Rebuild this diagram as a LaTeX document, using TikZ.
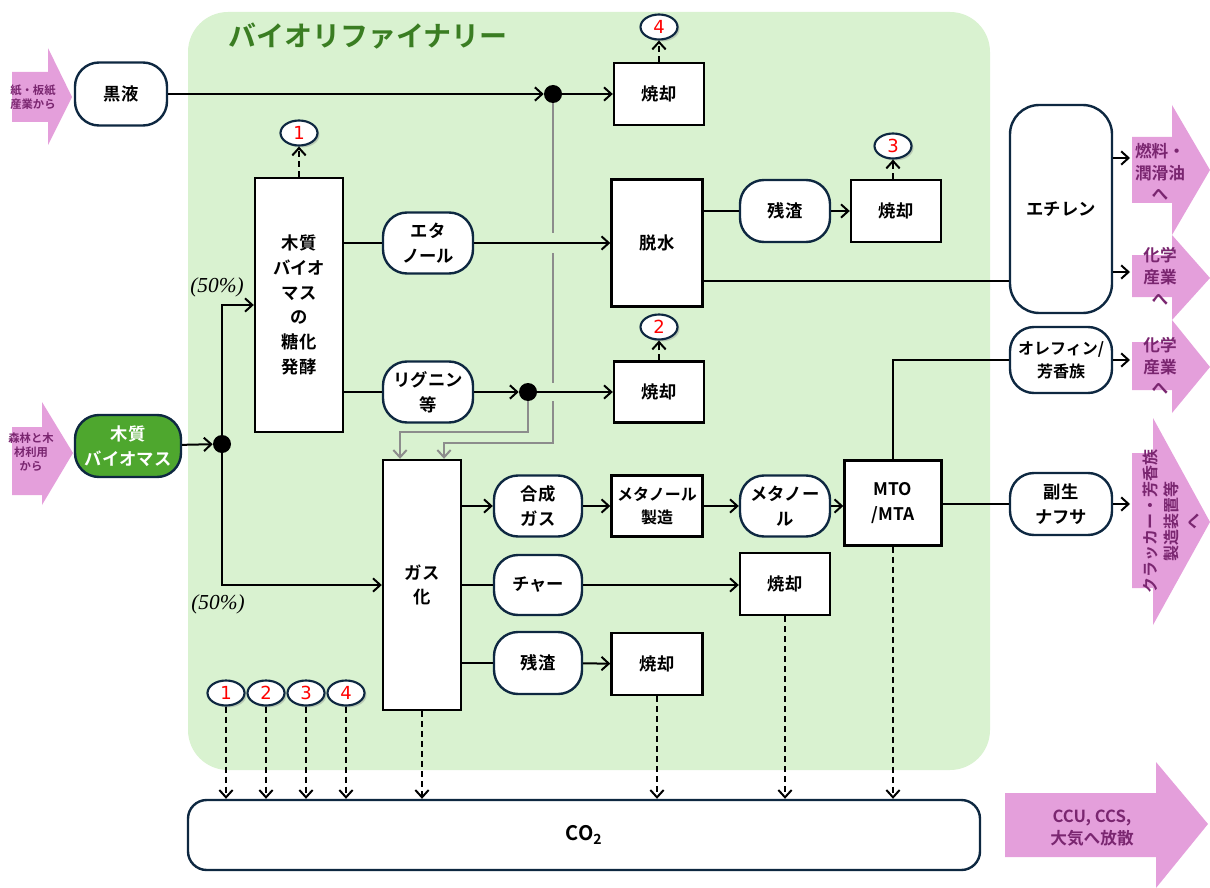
\documentclass[tikz,border=0pt]{standalone}
\usepackage{fontspec}
\setmainfont{Noto Sans CJK JP}[BoldFont={Noto Sans CJK JP Bold}]
\newfontfamily\serifit{Liberation Serif}
\newfontfamily\numfont{DejaVu Sans}
\usetikzlibrary{shapes.geometric,arrows.meta,shadows}
\definecolor{bggreen}{HTML}{D9F2D0}
\definecolor{titlegreen}{HTML}{3A7D22}
\definecolor{nodegreen}{HTML}{4EA72E}
\definecolor{navy}{HTML}{0E2841}
\definecolor{pinkarrow}{HTML}{E49FDB}
\definecolor{pinktext}{HTML}{7A2670}
\definecolor{grayline}{HTML}{8C8C8C}
\begin{document}
\begin{tikzpicture}[x=0.75pt,y=-0.75pt,
  sz/.style 2 args={minimum width=#1*0.75pt, minimum height=#2*0.75pt},
  nf/.style={font=\bfseries\fontsize{13}{18.5}\selectfont},
  box/.style={draw=black, line width=1.8pt, fill=white, inner sep=0pt, align=center, nf},
  pill/.style={draw=navy, line width=1.8pt, fill=white, inner sep=0pt, align=center, rounded corners=18pt, nf},
  dot/.style={circle, fill=black, minimum size=18*0.75pt, inner sep=0pt},
  num/.style={ellipse, draw=navy, line width=1.6pt, fill=white, minimum width=37*0.75pt, minimum height=25*0.75pt, inner sep=0pt, text=red, font=\numfont\fontsize{13.5}{13.5}\selectfont, drop shadow={shadow xshift=1.5pt, shadow yshift=-1.5pt, opacity=0.35}},
  arr/.style={line width=1.5pt, -{Straight Barb[length=5.5pt,width=10pt,line width=1.5pt]}},
  ln/.style={line width=1.5pt},
  garr/.style={line width=1.5pt, draw=grayline, -{Straight Barb[length=5.5pt,width=10pt,line width=1.5pt]}},
  gln/.style={line width=1.5pt, draw=grayline},
  dsh/.style={line width=2.2pt, dash pattern=on 4.5pt off 3pt, -{Straight Barb[length=5.5pt,width=10pt,line width=1.5pt]}},
  pk/.style={fill=pinkarrow},
  pkt/.style={text=pinktext, align=center, inner sep=0pt},
  pct/.style={font=\serifit\itshape\fontsize{16}{16}\selectfont, inner sep=0pt}
]
\useasboundingbox (0,0) rectangle (1210,888);
% background
\fill[bggreen, rounded corners=30pt] (188,12) rectangle (990,770);
\node[text=titlegreen, font=\bfseries\fontsize{21}{25}\selectfont, inner sep=0pt] (title) at (368,36) {バイオリファイナリー};

% pink arrows (left)
\fill[pk] (12,72) -- (48,72) -- (48,48) -- (72,97) -- (48,145) -- (48,122) -- (12,122) -- cycle;
\node[pkt, font=\bfseries\fontsize{8.5}{10.5}\selectfont] (inpaper) at (33,97) {紙・板紙\\産業から};
\fill[pk] (12,427) -- (42,427) -- (42,402) -- (73,453) -- (42,505) -- (42,495) -- (12,495) -- cycle;
\node[pkt, font=\bfseries\fontsize{8.5}{10.5}\selectfont] (inforest) at (31,452) {森林と木\\材利用\\から};

% pink arrows (right)
\fill[pk] (1132,137) -- (1172,137) -- (1172,105) -- (1210,170) -- (1172,235) -- (1172,203) -- (1132,203) -- cycle;
\node[pkt, font=\bfseries\fontsize{12.5}{16}\selectfont] (outfuel) at (1160,172) {燃料・\\潤滑油\\へ};
\fill[pk] (1132,255) -- (1172,255) -- (1172,235) -- (1210,278) -- (1172,320) -- (1172,297) -- (1132,297) -- cycle;
\node[pkt, font=\bfseries\fontsize{12.5}{16.5}\selectfont] (outchem1) at (1160,276) {化学\\産業\\へ};
\fill[pk] (1132,342) -- (1172,342) -- (1172,320) -- (1210,367) -- (1172,413) -- (1172,390) -- (1132,390) -- cycle;
\node[pkt, font=\bfseries\fontsize{12.5}{16}\selectfont] (outchem2) at (1160,366) {化学\\産業\\へ};
\fill[pk] (1132,453) -- (1153,453) -- (1153,418) -- (1210,522) -- (1153,625) -- (1153,588) -- (1132,588) -- cycle;
\node[pkt, rotate=90, font=\bfseries\fontsize{12}{16}\selectfont] (outcrack) at (1171,521) {クラッカー・芳香族\\製造装置等\\へ};
\fill[pk] (1005,793) -- (1156,793) -- (1156,762) -- (1208,824) -- (1156,888) -- (1156,857) -- (1005,857) -- cycle;
\node[pkt, font=\bfseries\fontsize{12.5}{16}\selectfont] (outccu) at (1092,828) {CCU, CCS,\\大気へ放散};

% nodes
\node[pill, sz={92}{63}] (kok) at (121,94) {黒液};
\node[pill, sz={106}{62}, fill=nodegreen, text=white] (wood) at (128,446) {木質\\バイオマス};
\node[box, sz={88}{254}] (sacc) at (299,305) {木質\\バイオ\\マス\\の\\糖化\\発酵};
\node[pill, sz={90}{61}] (etha) at (428,243) {エタ\\ノール};
\node[pill, sz={90}{61}] (lig) at (428,392) {リグニン\\等};
\node[box, sz={90}{62}] (sho4) at (659,94) {焼却};
\node[box, sz={91}{127}] (dass) at (657,243) {脱水};
\node[pill, sz={90}{62}] (zan1) at (785,211) {残渣};
\node[box, sz={90}{62}] (sho3) at (896,211) {焼却};
\node[box, sz={90}{61}] (sho2) at (659,392) {焼却};
\node[pill, sz={102}{208}, rounded corners=22pt] (ethy) at (1061,209) {エチレン};
\node[pill, sz={102}{66}, font=\bfseries\fontsize{12}{17}\selectfont] (olef) at (1061,360) {オレフィン/\\芳香族};
\node[pill, sz={102}{62}] (fuk) at (1061,504) {副生\\ナフサ};
\node[box, sz={78}{250}] (gas) at (422,585) {ガス\\化};
\node[pill, sz={88}{61}] (syn) at (538,506) {合成\\ガス};
\node[box, sz={91}{61}, font=\bfseries\fontsize{12}{17}\selectfont] (mprod) at (657,506) {メタノール\\製造};
\node[pill, sz={90}{61}] (meth) at (785,506) {メタノー\\ル};
\node[box, sz={97}{85}] (mto) at (893,503) {MTO\\/MTA};
\node[pill, sz={88}{60}] (char) at (538,585) {チャー};
\node[box, sz={90}{62}] (shoc) at (785,584) {焼却};
\node[pill, sz={88}{62}] (zan2) at (538,663) {残渣};
\node[box, sz={91}{62}] (shoz) at (657,664) {焼却};
\node[pill, sz={792}{70}, rounded corners=14pt, font=\bfseries\fontsize{15}{18}\selectfont] (co2) at (584,835) {CO\textsubscript{2}};

% dots
\node[dot] (d0) at (222,444) {};
\node[dot] (d1) at (553,94) {};
\node[dot] (d2) at (528,392) {};

% number ellipses
\node[num] (n1) at (299,133) {1};
\node[num] (n4) at (659,27) {4};
\node[num] (n3) at (893,146) {3};
\node[num] (n2) at (659,327) {2};
\node[num] (b1) at (226,693) {1};
\node[num] (b2) at (266,693) {2};
\node[num] (b3) at (306,693) {3};
\node[num] (b4) at (346,693) {4};

% percentage labels
\node[pct] (p1) at (217,287) {(50\%)};
\node[pct] (p2) at (218,604) {(50\%)};

% helper coordinates
\coordinate (ga) at (553,233);
\coordinate (gb) at (553,253);
\coordinate (gc) at (553,383);
\coordinate (gd) at (553,401);
\coordinate (ge) at (553,443);
\coordinate (gf) at (444,443);
\coordinate (ha) at (528,432);
\coordinate (hb) at (400,432);
\coordinate (y281) at (0,281);
\coordinate (tfuel) at (1130,158);
\coordinate (tchem1) at (1130,272);
\coordinate (tchem2) at (1130,360);
\coordinate (tcrack) at (1130,504);

% gray connectors
\draw[gln] (d1) -- (ga);
\draw[gln] (gb) -- (gc);
\draw[garr] (gd) -- (ge) -- (gf) -- (gf |- gas.north);
\draw[garr] (d2) -- (ha) -- (hb) -- (hb |- gas.north);

% black connectors
\draw[arr] (kok) -- (d1);
\draw[arr] (d1) -- (sho4);
\draw[arr] (wood) -- (d0);
\draw[arr] (d0) |- (sacc.west);
\draw[arr] (d0) |- (gas.west);
\draw[ln] (sacc.east |- etha.west) -- (etha.west);
\draw[ln] (sacc.east |- lig.west) -- (lig.west);
\draw[arr] (etha.east) -- (etha.east -| dass.west);
\draw[arr] (lig.east) -- (d2);
\draw[arr] (d2) -- (d2 -| sho2.west);
\draw[ln] (dass.east |- zan1.west) -- (zan1.west);
\draw[arr] (zan1) -- (sho3);
\draw[ln] (dass.east |- y281) -- (ethy.west |- y281);
\draw[arr] (ethy.east |- tfuel) -- (tfuel);
\draw[arr] (ethy.east |- tchem1) -- (tchem1);
\draw[arr] (olef.east |- tchem2) -- (tchem2);
\draw[arr] (fuk.east |- tcrack) -- (tcrack);
\draw[arr] (gas.east |- syn.west) -- (syn.west);
\draw[arr] (syn) -- (mprod);
\draw[arr] (mprod) -- (meth);
\draw[arr] (meth.east) -- (meth.east -| mto.west);
\draw[ln] (mto.north) |- (olef.west);
\draw[ln] (mto.east |- fuk.west) -- (fuk.west);
\draw[ln] (gas.east |- char.west) -- (char.west);
\draw[arr] (char.east) -- (char.east -| shoc.west);
\draw[ln] (gas.east |- zan2.west) -- (zan2.west);
\draw[arr] (zan2) -- (shoz);

% dashed connectors
\draw[dsh] (sacc.north) -- (n1.south);
\draw[dsh] (sho4.north) -- (n4.south);
\draw[dsh] (sho3.north -| n3.south) -- (n3.south);
\draw[dsh] (sho2.north) -- (n2.south);
\draw[dsh] (b1.south) -- (b1.south |- co2.north);
\draw[dsh] (b2.south) -- (b2.south |- co2.north);
\draw[dsh] (b3.south) -- (b3.south |- co2.north);
\draw[dsh] (b4.south) -- (b4.south |- co2.north);
\draw[dsh] (gas.south) -- (gas.south |- co2.north);
\draw[dsh] (shoz.south) -- (shoz.south |- co2.north);
\draw[dsh] (shoc.south) -- (shoc.south |- co2.north);
\draw[dsh] (mto.south) -- (mto.south |- co2.north);
\end{tikzpicture}
\end{document}
